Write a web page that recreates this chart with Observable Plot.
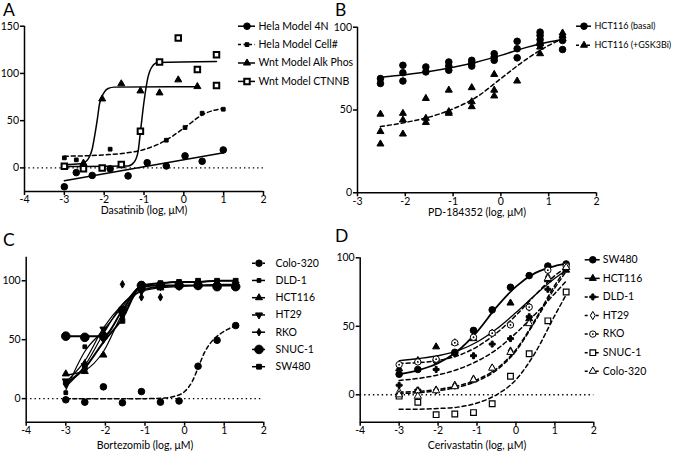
<!DOCTYPE html>
<html><head><meta charset="utf-8">
<script src="https://cdn.jsdelivr.net/npm/d3@7"></script>
<script src="https://cdn.jsdelivr.net/npm/@observablehq/plot@0.6"></script>
<style>
body{margin:0;background:#fff;}
#root{position:relative;width:673px;height:453px;overflow:hidden;font-family:Lato,'Open Sans',sans-serif;}
#root svg{position:absolute;overflow:visible;}
.letter{position:absolute;font-size:17.5px;line-height:17.5px;color:#000;}
</style></head>
<body><div id="root"></div>
<script>
// ---------------- Panel A data ----------------
const aHelaX   = [-3, -2.7, -2.3, -1.85, -1.4, -0.92, -0.44, 0.03, 0.46, 0.99];
const aHela4N  = [-20, -5, -8, -1, -8.5, 5.5, 2, 12.7, 7, 19];
const aCellX   = [-3, -2.7, -1.85, -0.44, 0.03, 0.46, 0.99];
const aCell    = [10.6, 8.5, 19.8, 29.3, 42.7, 57.9, 62.1];
const aAlkX    = [-2.52, -2.05, -1.57, -1.09, -0.61, -0.14, 0.34];
const aAlk     = [5, 73, 89, 81.5, 79.4, 93.2, 86.1];
const aCtX     = [-3, -2.52, -2.05, -1.57, -1.09, -0.61, -0.14, 0.34, 0.82, 0.82];
const aCt      = [1.8, -1, 0, 3.5, 38.8, 112.2, 137.6, 104.1, 119.7, 87.2];
// fitted curves
const aFit4NX  = [-3, 1];
const aFit4N   = [-13.5, 16];
const aFitCellX= [-3, -2.5, -2, -1.5, -1, -0.5, 0, 0.5, 1];
const aFitCell = [12.4, 12.7, 13.8, 15.5, 19.4, 28, 42, 57, 63];
const aFitAlkX = [-3, -2.6, -2.45, -2.38, -2.3, -2.23, -2.17, -2.12, -2.05, -2.0, -1.9, -1.75, 0.34];
const aFitAlk  = [3.5, 4.5, 7, 11, 20, 36, 52, 67, 76, 80, 84, 85.5, 86];
const aFitCtX  = [-3, -1.4, -1.25, -1.15, -1.09, -1.0, -0.9, -0.8, -0.65, 0.82];
const aFitCt   = [1.5, 2, 6, 17, 38, 70, 96, 107, 111.5, 112.5];

// ---------------- Panel B data ----------------
const bDoses = [-2.52, -2.05, -1.57, -1.09, -0.61, -0.14, 0.34, 0.82, 1.29];
const bBasal = [[69, 66], [77, 72.5, 67.5], [76, 73], [79, 76.5, 74], [80, 78, 76.5], [84, 82, 80], [91.5, 87, 81.5], [97, 95, 92.5, 90], [92, 86.5]];
const bGsk   = [[47.5, 37, 29.5], [48, 44, 35.5], [57, 45, 42.5], [62, 49, 48], [63.5, 55, 52], [71.5, 62, 58.5], [67.5], [84, 88, 90], [96.5, 95, 93]];
const bFitX     = [-2.52, -2, -1.5, -1, -0.5, 0, 0.5, 1, 1.29];
const bFitBasal = [69.8, 71.3, 73.2, 75.8, 79, 83, 87.5, 91, 92.6];
const bFitGsk   = [40, 42.5, 45.7, 50.7, 58, 69, 80, 89, 93];

// ---------------- Panel C data ----------------
const cDoses  = [-3, -2.52, -2.05, -1.57, -1.09, -0.61, -0.14, 0.34, 0.82, 1.29];
const cColo   = [-1, -3, 10, -3.5, 6, -3, -2, 27.5, 49.5, 62];
const cDLD    = [5, 44, 52, 70, 97, 97, 98, 99, 99, 99];
const cHCT    = [21, 23, 37, 74, 93, 94, 96, 96, 97, 97];
const cHT29   = [15, 28, 59, 72, 91, 95, 96, 96, 96, 97];
const cRKO    = [12, 30, 50, 97, 86, 86, 95, 96, 96, 96];
const cSNUC   = [53, 52, 53, 75, 96, 96, 96, 96, 95, 95];
const cSW     = [14, 26, 52, 66, 97, 98, 99, 100, 100, 100];
const cFitColoX = [-3, -1, -0.5, -0.25, 0, 0.2, 0.35, 0.5, 0.7, 0.9, 1.1, 1.29];
const cFitColo  = [0, 0, 0.5, 2, 6, 15, 27, 39, 49, 55, 59, 62];
const cFitDLD   = [7, 40, 58, 78, 96, 98, 99, 99, 100, 100];
const cFitHCT   = [20, 24, 40, 72, 92, 95, 96, 96, 97, 97];
const cFitHT29  = [14, 32, 60, 80, 93, 95, 96, 96, 96, 96];
const cFitRKO   = [10, 28, 55, 80, 91, 94, 95, 96, 96, 96];
const cFitSNUC  = [53, 53, 53, 75, 95, 96, 96, 96, 96, 96];
const cFitSW    = [13, 26, 48, 68, 96, 98, 99, 99, 100, 100];

// ---------------- Panel D data ----------------
const dDoses = [-3, -2.52, -2.05, -1.57, -1.09, -0.61, -0.14, 0.34, 0.82, 1.29];
const dSW    = [15, 18.5, 25, 31, 47, 62, 78.5, 87, 94, 95.5];
const dHCT   = [19, 25, 35, 38, 41, 45, 67, 55.5, 84, 91];
const dDLD   = [7, 3.5, 18.5, 30, 28.5, 37, 41, 57, 77, 92];
const dHT29  = [2, 2.5, 3.5, 7, 11.5, 19.5, 32, 64, 86, 94];
const dRKO   = [22, 24, 26, 38, 42, 45, 51, 64, 91, 94];
const dSNUC  = [-1, -5.5, -14.5, -14, -13, -6.5, 13.5, 30, 54, 75];
const dColo  = [0, -1, 3, 6, 11, 19.5, 31, 52, 85, 93];
const dFitX    = [-3, -2.5, -2, -1.5, -1, -0.5, 0, 0.5, 1, 1.29];
const dFitSW   = [15, 18, 23, 32, 46, 64, 79, 89, 94, 95.5];
const dFitHCT  = [25, 26.5, 28.5, 32, 38.5, 48, 60, 73, 85, 91];
const dFitDLD  = [10.5, 12, 14.5, 18.5, 24.5, 33, 45, 59, 74, 83];
const dFitHT29 = [2, 2.5, 4, 6.5, 11, 19, 33, 55, 80, 92];
const dFitRKO  = [23, 23.5, 25, 28.5, 35, 45, 58, 73, 87, 93];
const dFitSNUC = [-10.5, -10.5, -10, -9, -6, 0, 11, 31, 58, 73];
const dFitColo = [1, 1.5, 3, 5.5, 10, 18, 32, 54, 78, 90];

// ---------------- helpers ----------------
const FONT = "Lato, 'Open Sans', sans-serif";
const root = document.getElementById("root");
const P = (xs, ys) => xs.map((x, i) => ({x, y: ys[i]}));
const R = (doses, reps) => doses.flatMap((x, i) => reps[i].map(y => ({x, y})));

const ST = {
  circle:   {symbol: "circle", r: 3.3},
  square:   {symbol: "square", r: 2.1},
  tri:      {symbol: "triangle", r: 2.6},
  triDown:  {symbol: "triangle", r: 2.6, rotate: 180},
  diamondS: {symbol: "diamond", r: 2.3},
  bigCircle:{symbol: "circle", r: 4.3},
  bigSquare:{symbol: "square", r: 2.7},
  openBigSquare: {symbol: "square", r: 3.1, open: true, sw: 2},
  cross:    {symbol: "cross", r: 2.5},
  openDiamond: {symbol: "diamond", r: 2.5, open: true},
  openCircleDot: {symbol: "circle", r: 3.2, open: true, center: true},
  openSquare: {symbol: "square", r: 3.2, open: true, sw: 1.2},
  openTri:  {symbol: "triangle", r: 2.7, open: true}
};

function dotMarks(data, st, xs = "x", ys = "y") {
  const out = [Plot.dot(data, {x: xs, y: ys, symbol: st.symbol, r: st.r,
    fill: st.open ? "white" : "black", stroke: "black", strokeWidth: st.sw ?? 1, rotate: st.rotate ?? 0})];
  if (st.center) out.push(Plot.dot(data, {x: xs, y: ys, r: 0.9, fill: "black"}));
  return out;
}
function lineMark(fit, dashed, lw = 1.5) {
  return Plot.line(fit, {x: "x", y: "y", curve: "monotone-x", stroke: "black", strokeWidth: lw,
    ...(dashed ? {strokeDasharray: "4,3"} : {})});
}

function panel(c) {
  const svg = Plot.plot({
    width: c.w, height: c.h, marginLeft: c.mL, marginRight: c.mR, marginTop: c.mT, marginBottom: c.mB,
    x: {domain: c.xd}, y: {domain: c.yd},
    style: {fontFamily: FONT, fontSize: "10.5px", color: "black", background: "transparent"},
    marks: [
      ...(c.zero ? [Plot.ruleY([0], {stroke: "black", strokeWidth: 1.4, strokeDasharray: "1.4,3"})] : []),
      ...c.series.map(s => lineMark(s.fit, s.dashed, s.lw)),
      ...c.series.flatMap(s => dotMarks(s.pts, s.st)),
      Plot.axisX({ticks: c.xt, tickFormat: d => String(d), tickSize: 4, tickPadding: 0.5, strokeWidth: 1.5, label: null}),
      Plot.axisY({ticks: c.yt, tickFormat: d => String(d), tickSize: 4, tickPadding: 1.5, strokeWidth: 1.5, label: null}),
      Plot.ruleX([c.xd[0]], {stroke: "black", strokeWidth: 1.5}),
      Plot.ruleY([c.yd[0]], {stroke: "black", strokeWidth: 1.5}),
      Plot.text([c.xlabel], {frameAnchor: "bottom", lineAnchor: "middle", dy: c.labelDy, fontSize: 10.5})
    ]
  });
  svg.style.left = c.left + "px"; svg.style.top = c.top + "px";
  root.appendChild(svg);
}

function legend(entries, c) {
  const rows = entries.map((e, i) => ({...e, ry: c.y0 + i * c.step}));
  const fs = c.fs ?? 11;
  const svg = Plot.plot({
    width: c.w, height: c.h, margin: 0,
    x: {domain: [0, c.w], range: [0, c.w], axis: null},
    y: {domain: [0, c.h], range: [0, c.h], axis: null},
    style: {fontFamily: FONT, fontSize: fs + "px", color: "black", background: "transparent"},
    marks: rows.flatMap(r => [
      Plot.ruleY([r], {y: "ry", x1: c.lx1, x2: c.lx2, stroke: "black", strokeWidth: 1.5,
        ...(r.dashed ? {strokeDasharray: "3,2.5"} : {})}),
      ...dotMarks([r], r.st, () => c.mx, "ry"),
      Plot.text([r], {x: () => c.tx, y: "ry", text: "name", textAnchor: "start", fontSize: fs})
    ])
  });
  svg.style.left = c.left + "px"; svg.style.top = c.top + "px";
  root.appendChild(svg);
}

function letter(t, left, top) {
  const d = document.createElement("div");
  d.className = "letter"; d.textContent = t;
  d.style.left = left + "px"; d.style.top = top + "px";
  root.appendChild(d);
}

// ---------------- Panel A ----------------
panel({left: 0, top: 0, w: 270, h: 225, mL: 24, mR: 7, mT: 25.7, mB: 34,
  xd: [-4, 2], yd: [-25, 150], xt: [-4, -3, -2, -1, 0, 1, 2], yt: [0, 50, 100, 150],
  zero: true, xlabel: "Dasatinib (log, μM)", labelDy: 19.5,
  series: [
    {pts: P(aHelaX, aHela4N), fit: P(aFit4NX, aFit4N), st: ST.circle},
    {pts: P(aCellX, aCell), fit: P(aFitCellX, aFitCell), st: ST.square, dashed: true},
    {pts: P(aAlkX, aAlk), fit: P(aFitAlkX, aFitAlk), st: ST.tri},
    {pts: P(aCtX, aCt), fit: P(aFitCtX, aFitCt), st: ST.openBigSquare}
  ]});
legend([
  {name: "Hela Model 4N", st: ST.circle},
  {name: "Hela Model Cell#", st: ST.square, dashed: true},
  {name: "Wnt Model Alk Phos", st: ST.tri},
  {name: "Wnt Model CTNNB", st: ST.openBigSquare}
], {left: 230, top: 10, w: 115, h: 85, lx1: 8, lx2: 25, mx: 16.5, tx: 28, y0: 15.7, step: 18.4, fs: 10.5});
letter("A", 3, 1);

// ---------------- Panel B ----------------
panel({left: 333, top: 0, w: 270, h: 225, mL: 24, mR: 7, mT: 26.7, mB: 32.7,
  xd: [-3, 2], yd: [0, 100], xt: [-3, -2, -1, 0, 1, 2], yt: [0, 50, 100],
  zero: false, xlabel: "PD-184352 (log, μM)", labelDy: 19.5,
  series: [
    {pts: R(bDoses, bBasal), fit: P(bFitX, bFitBasal), st: ST.circle},
    {pts: R(bDoses, bGsk), fit: P(bFitX, bFitGsk), st: ST.tri, dashed: true}
  ]});
legend([
  {name: "HCT116 (basal)", st: ST.circle},
  {name: "HCT116 (+GSK3Bi)", st: ST.tri, dashed: true}
], {left: 570, top: 10, w: 103, h: 50, lx1: 6, lx2: 21, mx: 13.5, tx: 24, y0: 15.7, step: 19, fs: 9});
letter("B", 335, 1);

// ---------------- Panel C ----------------
panel({left: 0, top: 225, w: 270, h: 228, mL: 25.7, mR: 6.7, mT: 31.7, mB: 31.3,
  xd: [-4, 2], yd: [-20, 120], xt: [-4, -3, -2, -1, 0, 1, 2], yt: [0, 50, 100],
  zero: true, xlabel: "Bortezomib (log, μM)", labelDy: 23.5,
  series: [
    {pts: P(cDoses, cColo), fit: P(cFitColoX, cFitColo), st: ST.circle, dashed: true},
    {pts: P(cDoses, cDLD), fit: P(cDoses, cFitDLD), st: ST.square, lw: 1.2},
    {pts: P(cDoses, cHCT), fit: P(cDoses, cFitHCT), st: ST.tri, lw: 1.2},
    {pts: P(cDoses, cHT29), fit: P(cDoses, cFitHT29), st: ST.triDown, lw: 1.2},
    {pts: P(cDoses, cRKO), fit: P(cDoses, cFitRKO), st: ST.diamondS, lw: 1.2},
    {pts: P(cDoses, cSNUC), fit: P(cDoses, cFitSNUC), st: ST.bigCircle, lw: 2},
    {pts: P(cDoses, cSW), fit: P(cDoses, cFitSW), st: ST.bigSquare, lw: 2}
  ]});
legend([
  {name: "Colo-320", st: ST.circle, dashed: true},
  {name: "DLD-1", st: ST.square},
  {name: "HCT116", st: ST.tri},
  {name: "HT29", st: ST.triDown},
  {name: "RKO", st: ST.diamondS},
  {name: "SNUC-1", st: ST.bigCircle},
  {name: "SW480", st: ST.bigSquare}
], {left: 245, top: 250, w: 90, h: 130, lx1: 7, lx2: 20, mx: 13.5, tx: 30, y0: 12.7, step: 17.25, fs: 10.5});
letter("C", 3, 230.5);

// ---------------- Panel D ----------------
panel({left: 333, top: 225, w: 270, h: 228, mL: 26.7, mR: 9.7, mT: 32.3, mB: 31.3,
  xd: [-4, 2], yd: [-20, 100], xt: [-4, -3, -2, -1, 0, 1, 2], yt: [0, 50, 100],
  zero: true, xlabel: "Cerivastatin (log, μM)", labelDy: 23.5,
  series: [
    {pts: P(dDoses, dSW), fit: P(dFitX, dFitSW), st: ST.circle, lw: 1.8},
    {pts: P(dDoses, dHCT), fit: P(dFitX, dFitHCT), st: ST.tri, lw: 1.3},
    {pts: P(dDoses, dDLD), fit: P(dFitX, dFitDLD), st: ST.cross, dashed: true},
    {pts: P(dDoses, dHT29), fit: P(dFitX, dFitHT29), st: ST.openDiamond, dashed: true},
    {pts: P(dDoses, dRKO), fit: P(dFitX, dFitRKO), st: ST.openCircleDot, dashed: true},
    {pts: P(dDoses, dSNUC), fit: P(dFitX, dFitSNUC), st: ST.openSquare, dashed: true},
    {pts: P(dDoses, dColo), fit: P(dFitX, dFitColo), st: ST.openTri, dashed: true}
  ]});
legend([
  {name: "SW480", st: ST.circle},
  {name: "HCT116", st: ST.tri},
  {name: "DLD-1", st: ST.cross, dashed: true},
  {name: "HT29", st: ST.openDiamond, dashed: true},
  {name: "RKO", st: ST.openCircleDot, dashed: true},
  {name: "SNUC-1", st: ST.openSquare, dashed: true},
  {name: "Colo-320", st: ST.openTri, dashed: true}
], {left: 578, top: 250, w: 95, h: 135, lx1: 6.7, lx2: 21.7, mx: 14.3, tx: 24.3, y0: 9.3, step: 18.57, fs: 10.5});
letter("D", 335, 227);
</script>
</body></html>
